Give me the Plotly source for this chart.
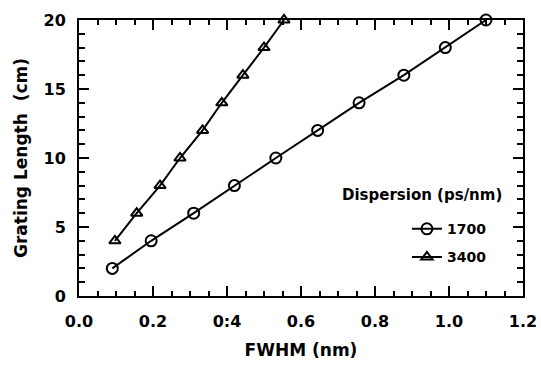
import plotly.graph_objects as go

fwhm_1700 = [0.09, 0.195, 0.31, 0.42, 0.532, 0.645, 0.757, 0.878, 0.99, 1.10]
len_1700 = [2, 4, 6, 8, 10, 12, 14, 16, 18, 20]
fwhm_3400 = [0.097, 0.156, 0.219, 0.273, 0.334, 0.386, 0.443, 0.50, 0.554]
len_3400 = [4, 6, 8, 10, 12, 14, 16, 18, 20]

x_tickvals = [0.0, 0.2, 0.4, 0.6, 0.8, 1.0, 1.2]
x_ticktext = ["0.0", "0.2", "0:4", "0.6", "0.8", "1.0", "1.2"]
y_tickvals = [0, 5, 10, 15, 20]
legend_title = "Dispersion (ps/nm)"

FONT = "DejaVu Sans, Arial, sans-serif"

fig = go.Figure()
fig.add_trace(go.Scatter(
    x=fwhm_1700, y=len_1700, mode="lines+markers", name="1700", legendgroup="a",
    line=dict(color="black", width=2),
    marker=dict(symbol="circle-open", size=11, color="black", line=dict(width=2)),
    cliponaxis=False,
))
fig.add_trace(go.Scatter(
    x=fwhm_3400, y=len_3400, mode="lines+markers", name="3400", legendgroup="b",
    line=dict(color="black", width=2),
    marker=dict(symbol="triangle-up-open", size=10, color="black", line=dict(width=2)),
    cliponaxis=False,
))

axis_common = dict(
    showline=True, linecolor="black", linewidth=2, mirror="ticks",
    ticks="inside", ticklen=10, tickwidth=2, tickcolor="black",
    showgrid=False, zeroline=False, automargin=False,
    tickfont=dict(family=FONT, size=16, color="black", weight="bold"),
)

fig.update_xaxes(
    range=[0, 1.2], tickvals=x_tickvals, ticktext=x_ticktext,
    ticklabelstandoff=10,
    minor=dict(dtick=0.05, ticks="inside", ticklen=5, tickwidth=1.5, tickcolor="black", showgrid=False),
    title=dict(text="FWHM (nm)", font=dict(family=FONT, size=17, color="black", weight="bold"), standoff=14),
    **axis_common,
)
fig.update_yaxes(
    range=[0, 20], tickvals=y_tickvals,
    ticklabelstandoff=8,
    minor=dict(dtick=1, ticks="inside", ticklen=6, tickwidth=1.5, tickcolor="black", showgrid=False),
    title=dict(text="Grating Length  (cm)", font=dict(family=FONT, size=17, color="black", weight="bold"), standoff=12),
    **axis_common,
)

fig.add_annotation(
    x=0.957, y=0.365, xref="paper", yref="paper", xanchor="right", yanchor="middle",
    showarrow=False, text=legend_title,
    font=dict(family=FONT, size=15, color="black", weight="bold"),
)

fig.update_layout(
    width=541, height=375,
    margin=dict(l=79, r=18, t=20, b=79),
    plot_bgcolor="white", paper_bgcolor="white",
    showlegend=True,
    legend=dict(
        x=0.93, y=0.30, xanchor="right", yanchor="top",
        bgcolor="rgba(0,0,0,0)",
        font=dict(family=FONT, size=14, color="black", weight="bold"),
        tracegroupgap=7, itemsizing="trace",
    ),
)

fig.write_html("out.html")
